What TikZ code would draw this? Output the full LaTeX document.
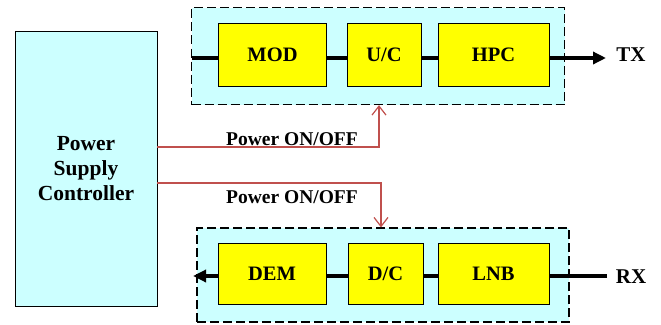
\documentclass[tikz,border=0pt]{standalone}
\usepackage{fontspec}
\setmainfont{Liberation Serif}
\usetikzlibrary{arrows.meta}
\definecolor{lcyan}{HTML}{CCFFFF}
\definecolor{pyel}{HTML}{FFFF00}
\definecolor{pred}{HTML}{C0504D}
\begin{document}
\begin{tikzpicture}[x=1pt,y=-1pt,
  blk/.style={draw=black,line width=1pt,fill=pyel,minimum height=63pt,inner sep=0pt,
    font=\fontsize{20.5}{22}\selectfont\bfseries},
  grp/.style={draw=black,line width=1.2pt,dash pattern=on 9pt off 4pt,fill=lcyan,inner sep=0pt},
  sig/.style={line width=3.5pt},
  sigarr/.style={line width=3.5pt,-{Triangle[length=13pt,width=12pt]}},
  pwr/.style={draw=pred,line width=1.3pt,-{Straight Barb[length=9pt,width=14pt,line width=1.2pt]}},
  lbl/.style={font=\fontsize{19.5}{21}\selectfont\bfseries,inner sep=0pt},
  io/.style={font=\fontsize{21}{22}\selectfont\bfseries,inner sep=0pt}]
\useasboundingbox (0,0) rectangle (661,324);
% controller
\node[draw=black,line width=1pt,fill=lcyan,minimum width=142pt,minimum height=275pt,inner sep=0pt,
  align=center,font=\fontsize{21.5}{25}\selectfont\bfseries] (psc) at (86,168.5) {Power\\Supply\\Controller};
% TX group
\node[grp,minimum width=373pt,minimum height=97pt] (tg) at (378,56) {};
\node[blk,minimum width=108pt] (mod) at (272.5,54.5) {MOD};
\node[blk,minimum width=74pt] (uc) at (384,54.5) {U/C};
\node[blk,minimum width=111pt] (hpc) at (493.5,54.5) {HPC};
\coordinate (tin) at (192,58);
\coordinate (tout) at (606,58);
\node[io] (tx) at (631,55) {TX};
\draw[sig] (tin) -- (tin -| mod.west);
\draw[sig] (mod.east |- tin) -- (uc.west |- tin);
\draw[sig] (uc.east |- tin) -- (hpc.west |- tin);
\draw[sigarr] (hpc.east |- tin) -- (tout);
% RX group
\node[grp,minimum width=372pt,minimum height=94pt] (rg) at (383,275) {};
\node[blk,minimum width=108pt,minimum height=61pt] (dem) at (272,273.5) {DEM};
\node[blk,minimum width=75pt,minimum height=61pt] (dc) at (385.5,273.5) {D/C};
\node[blk,minimum width=111pt,minimum height=61pt] (lnb) at (493.5,273.5) {LNB};
\coordinate (rin) at (607,276);
\coordinate (rout) at (193,276);
\node[io] (rx) at (631,277) {RX};
\draw[sig] (rin) -- (lnb.east |- rin);
\draw[sig] (lnb.west |- rin) -- (dc.east |- rin);
\draw[sig] (dc.west |- rin) -- (dem.east |- rin);
\draw[sigarr] (dem.west |- rin) -- (rout);
% power control lines
\coordinate (p1) at (157,147);
\coordinate (p1c) at (379,147);
\coordinate (p2) at (157,183);
\coordinate (p2c) at (381,183);
\draw[pwr] (p1) -- (p1c) -- (p1c |- tg.south);
\draw[pwr] (p2) -- (p2c) -- (p2c |- rg.north);
\node[lbl] (l1) at (292,139) {Power ON/OFF};
\node[lbl] (l2) at (292,197.5) {Power ON/OFF};
\end{tikzpicture}
\end{document}
